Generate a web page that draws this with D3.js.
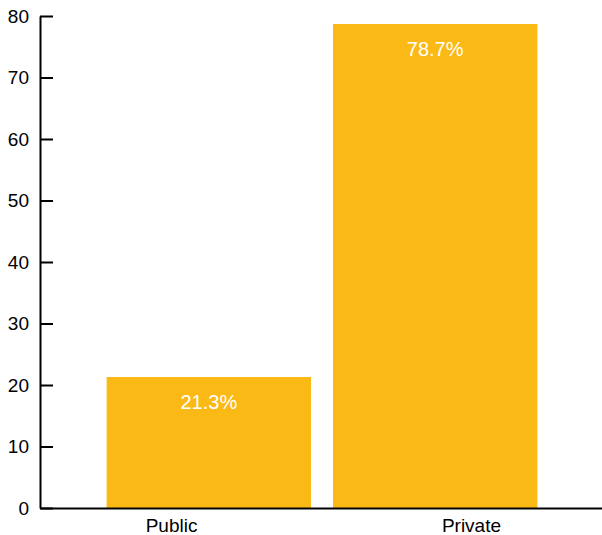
<!DOCTYPE html>
<html><head><meta charset="utf-8">
<script src="https://cdn.jsdelivr.net/npm/d3@7"></script>
<style>body{margin:0;background:#fff}svg{display:block}text{font-family:"Liberation Sans",Arial,Helvetica,sans-serif}</style>
</head><body>
<script>
const categories = ["Public", "Private"];
const values = [21.3, 78.7];
const yTicks = [0, 10, 20, 30, 40, 50, 60, 70, 80];

const W = 602, H = 535;
const svg = d3.select("body").append("svg").attr("width", W).attr("height", H);

const y = d3.scaleLinear().domain([0, 80]).range([508, 16]);
const x = d3.scaleBand().domain(categories).range([41, 603]).paddingInner(0.097).paddingOuter(0.29);
const xl = d3.scalePoint().domain(categories).range([40, 602]).padding(0.437);

svg.selectAll("rect.bar").data(values).enter().append("rect")
  .attr("x", (d, i) => x(categories[i]))
  .attr("width", x.bandwidth())
  .attr("y", d => y(d))
  .attr("height", d => y(0) - y(d))
  .attr("fill", "#FBB916");

svg.selectAll("text.lab").data(values).enter().append("text")
  .attr("x", (d, i) => x(categories[i]) + x.bandwidth() / 2)
  .attr("y", d => y(d) + 32)
  .attr("text-anchor", "middle")
  .attr("fill", "#fff")
  .attr("font-size", 20)
  .style("font-family", "'Liberation Sans Narrow', 'Arial Narrow', 'Liberation Sans', sans-serif")
  .text(d => d.toFixed(1) + "%");

const yAxis = svg.append("g").attr("transform", "translate(40,0)")
  .call(d3.axisLeft(y).tickValues(yTicks).tickSizeInner(-13).tickSizeOuter(0).tickPadding(11));
yAxis.select(".domain").attr("stroke", "#000").attr("stroke-width", 2);
yAxis.selectAll(".tick line").attr("stroke", "#000").attr("stroke-width", 2);
yAxis.selectAll(".tick text").attr("font-size", 19).attr("fill", "#000").attr("font-family", "Liberation Sans, Arial, sans-serif");

const xAxis = svg.append("g").attr("transform", "translate(0,508)")
  .call(d3.axisBottom(xl).tickSize(0).tickPadding(11));
xAxis.select(".domain").attr("stroke", "#000").attr("stroke-width", 2);
xAxis.selectAll(".tick text").attr("font-size", 19).attr("fill", "#000").attr("font-family", "Liberation Sans, Arial, sans-serif");
</script>
</body></html>
